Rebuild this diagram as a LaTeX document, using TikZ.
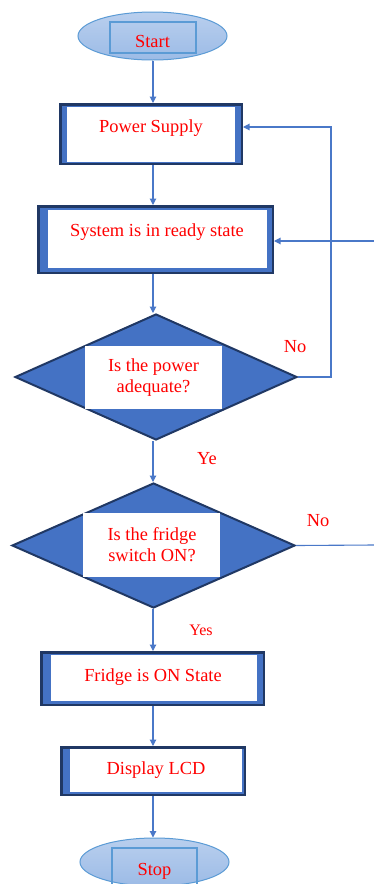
\documentclass[tikz,border=0pt]{standalone}
\usepackage{fontspec}
\setmainfont{Liberation Serif}
\usetikzlibrary{shapes.geometric,arrows.meta}
\definecolor{navy}{HTML}{203864}
\definecolor{fblue}{HTML}{4472C4}
\definecolor{linec}{HTML}{4A78C8}
\definecolor{eltop}{HTML}{B9CFEE}
\definecolor{elbot}{HTML}{9CBBE6}
\definecolor{elline}{HTML}{5B9BD5}
\begin{document}
\begin{tikzpicture}[x=1pt,y=-1pt,
  procbox/.style={rectangle, draw=navy, fill=fblue, line width=2.5pt, inner sep=0pt},
  inner/.style={fill=white},
  termin/.style={ellipse, draw=elline, line width=1pt, top color=eltop, bottom color=elbot, inner sep=0pt, minimum width=149pt, minimum height=48pt},
  termrect/.style={draw=elline, line width=1.2pt},
  decision/.style={diamond, draw=navy, fill=fblue, line width=2pt, inner sep=0pt},
  lbl/.style={text=red, font=\fontsize{18.4}{21}\selectfont, inner sep=0pt},
  lblsm/.style={text=red, font=\fontsize{16}{19}\selectfont, inner sep=0pt},
  conn/.style={draw=linec, line width=1.1pt, -{Triangle[length=6.5pt,width=6.5pt]}},
  plain/.style={draw=linec, line width=1.1pt}
]
\useasboundingbox (0,0) rectangle (374,884);
\fill[white] (0,0) rectangle (374,884);
\coordinate (axis) at (153,0);
\coordinate (loopx) at (331,0);
\coordinate (in1) at (374,241);
\coordinate (out2) at (374,545);

% Start
\node[termin] (start) at (152.5,36) {};
\draw[termrect] (110,22) rectangle (196,53);
\node[lbl, anchor=base] (tstart) at (152.5,47) {Start};

% Power Supply
\node[procbox, minimum width=181.5pt, minimum height=59.5pt] (power) at (151,134) {};
\fill[inner] (67,107) rectangle (235,162);
\node[lbl, anchor=base] (tpower) at (151,132.5) {Power Supply};

% System ready
\node[procbox, minimum width=234.5pt, minimum height=66.5pt] (system) at (155.5,239.5) {};
\fill[inner] (48,210) rectangle (267,268);
\node[lbl, anchor=base] (tsystem) at (157,236) {System is in ready state};

% Decision 1
\node[decision, minimum width=282pt, minimum height=126pt] (d1) at (156,377) {};
\fill[inner] (85,346) rectangle (222,409);
\node[lbl, align=center] (td1) at (153.5,378) {Is the power\\adequate?};

% Decision 2
\node[decision, minimum width=283pt, minimum height=125pt] (d2) at (153.5,545.5) {};
\fill[inner] (83,513) rectangle (220,577);
\node[lbl, align=center] (td2) at (152,545) {Is the fridge\\switch ON?};

% Fridge ON
\node[procbox, minimum width=222.5pt, minimum height=52.5pt] (fridge) at (152.5,678.5) {};
\fill[inner] (51,655) rectangle (257,701);
\node[lbl, anchor=base] (tfridge) at (153,681) {Fridge is ON State};

% Display LCD
\node[procbox, minimum width=183.5pt, minimum height=47.5pt] (display) at (153,771) {};
\fill[inner] (70,749) rectangle (242,792);
\node[lbl, anchor=base] (tdisplay) at (156,774) {Display LCD};

% Stop
\node[termin] (stop) at (154.5,862) {};
\draw[termrect] (112,848) rectangle (197,886);
\node[lbl, anchor=base] (tstop) at (154.5,875) {Stop};

% labels
\node[lbl, anchor=base] (no1) at (295,352) {No};
\node[lbl, anchor=base] (ye) at (207,464) {Ye};
\node[lbl, anchor=base] (no2) at (318,526) {No};
\node[lblsm, anchor=base] (yes) at (201,635) {Yes};

% connectors
\draw[conn] (start.south -| axis) -- (power.north -| axis);
\draw[conn] (power.south -| axis) -- (system.north -| axis);
\draw[conn] (system.south -| axis) -- (d1.north -| axis);
\draw[conn] (d1.south -| axis) -- (d2.north -| axis);
\draw[conn] (d2.south -| axis) -- (fridge.north -| axis);
\draw[conn] (fridge.south -| axis) -- (display.north -| axis);
\draw[conn] (display.south -| axis) -- (stop.north -| axis);
\draw[conn] (d1.east) -- (d1.east -| loopx) -- ([yshift=7pt]power.east -| loopx) -- ([yshift=7pt]power.east);
\draw[conn] (in1) -- (in1 -| system.east);
\draw[plain] (d2.east) -- (out2);
\end{tikzpicture}
\end{document}
